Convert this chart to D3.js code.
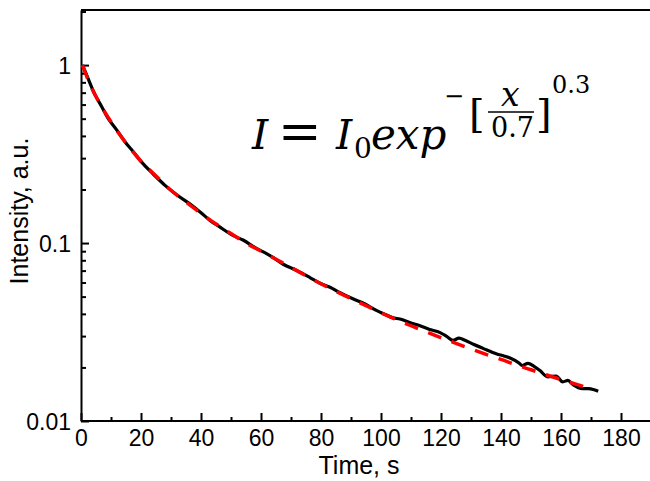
<!DOCTYPE html>
<html>
<head>
<meta charset="utf-8">
<script src="https://cdn.jsdelivr.net/npm/d3@7"></script>
<style>
  body { margin: 0; background: #fff; }
  svg { display: block; }
</style>
</head>
<body>
<script>

// measured decay curve (time in s, intensity in a.u.)
var timeData = [0.5, 2, 4.7, 7, 9.1, 12, 14.7, 17.5, 20.2, 24, 28, 32, 36.9, 40, 43, 46,
  50.8, 54, 58.6, 62, 64, 67.4, 72, 76.3, 80, 83, 86, 90.8, 94, 98.6, 101, 104, 106.3,
  110, 113, 116, 119.7, 122, 124, 126, 128, 130.8, 134, 138.6, 141, 143, 146, 147,
  149, 151, 153, 155.5, 158.4, 160.6, 162.3, 164, 167.2, 169, 171, 172.4];
var intensityData = [1.0, 0.87, 0.68, 0.58, 0.50, 0.43, 0.37, 0.325, 0.285, 0.245, 0.211,
  0.186, 0.163, 0.148, 0.134, 0.124, 0.110, 0.104, 0.093, 0.087, 0.083, 0.076, 0.070,
  0.064, 0.059, 0.0565, 0.053, 0.0485, 0.046, 0.0417, 0.040, 0.038, 0.0374, 0.0355,
  0.0343, 0.0328, 0.0314, 0.0298, 0.0284, 0.0292, 0.0284, 0.027, 0.0256, 0.0238,
  0.0232, 0.0226, 0.0212, 0.0205, 0.0211, 0.0203, 0.0192, 0.0177, 0.0179, 0.0166,
  0.0169, 0.0160, 0.0152, 0.0152, 0.0150, 0.0147];

// stretched exponential fit
var fitTime = [0.5, 3, 6, 10, 15, 20, 25, 30, 35, 40, 45, 50, 55, 60, 65, 70, 75, 80, 85,
  90, 95, 100, 105, 110, 115, 120, 125, 130, 135, 140, 145, 150, 155, 160, 165, 170];
var fitIntensity = [1.0, 0.78, 0.62, 0.48, 0.365, 0.288, 0.238, 0.198, 0.170, 0.147,
  0.128, 0.113, 0.100, 0.090, 0.081, 0.073, 0.0655, 0.059, 0.0535, 0.0488, 0.0445,
  0.0405, 0.0372, 0.0343, 0.0317, 0.0294, 0.0273, 0.0254, 0.0237, 0.0222, 0.0207,
  0.0194, 0.0182, 0.0171, 0.0161, 0.0152];

var xMajor = [0, 20, 40, 60, 80, 100, 120, 140, 160, 180];
var xMinor = [10, 30, 50, 70, 90, 110, 130, 150, 170, 190];
var yMajor = [0.01, 0.1, 1];
var yMajorLabels = ["0.01", "0.1", "1"];
var yMinor = [0.02, 0.03, 0.04, 0.05, 0.06, 0.07, 0.08, 0.09,
  0.2, 0.3, 0.4, 0.5, 0.6, 0.7, 0.8, 0.9, 2];

var width = 650, height = 481;
var margin = {top: 10, left: 80, bottom: 60};

var svg = d3.select("body").append("svg")
    .attr("width", width)
    .attr("height", height);

var x = d3.scaleLinear().domain([0, 190]).range([81, 651]);
var y = d3.scaleLog().domain([0.01, 2.04]).range([height - margin.bottom, margin.top]);

// frame: top line (right side runs off the picture)
svg.append("line")
    .attr("x1", x(0)).attr("x2", width + 5)
    .attr("y1", margin.top).attr("y2", margin.top)
    .attr("stroke", "#000").attr("stroke-width", 2);

var font = "'Liberation Sans', Arial, sans-serif";

// x axis
var gx = svg.append("g")
    .attr("transform", "translate(0," + y(0.01) + ")")
    .call(d3.axisBottom(x).tickValues(xMajor).tickSize(-8).tickSizeOuter(0).tickPadding(5));
svg.append("g")
    .attr("transform", "translate(0," + y(0.01) + ")")
    .call(d3.axisBottom(x).tickValues(xMinor).tickSize(-4).tickFormat(""))
    .select(".domain").remove();

// y axis
var gy = svg.append("g")
    .attr("transform", "translate(" + x(0) + ",0)")
    .call(d3.axisLeft(y).tickValues(yMajor).tickSize(-8).tickSizeOuter(0).tickPadding(10)
      .tickFormat(function(d, i) { return yMajorLabels[i]; }));
svg.append("g")
    .attr("transform", "translate(" + x(0) + ",0)")
    .call(d3.axisLeft(y).tickValues(yMinor).tickSize(-5).tickFormat(""))
    .select(".domain").remove();

svg.selectAll(".domain").attr("stroke", "#000").attr("stroke-width", 2);
svg.selectAll(".tick line").attr("stroke", "#000").attr("stroke-width", 2);
svg.selectAll(".tick text")
    .attr("font-family", font)
    .attr("font-size", 23)
    .attr("fill", "#000");
gx.select(".domain").attr("d", "M" + x(0) + ",0H" + (width + 5));
gx.selectAll(".tick text").attr("dy", "0.85em");
gy.selectAll(".tick text").attr("dy", "0.35em");

// axis titles
svg.append("text")
    .attr("x", 359).attr("y", 474)
    .attr("text-anchor", "middle")
    .attr("font-family", font).attr("font-size", 25)
    .text("Time, s");

svg.append("text")
    .attr("transform", "translate(28,211) rotate(-90)")
    .attr("text-anchor", "middle")
    .attr("font-family", font).attr("font-size", 25)
    .text("Intensity, a.u.");

// curves
var line = d3.line()
    .x(function(d) { return x(d[0]); })
    .y(function(d) { return y(d[1]); })
    .curve(d3.curveMonotoneX);

var measured = timeData.map(function(t, i) { return [t, intensityData[i]]; });
var fitted = fitTime.map(function(t, i) { return [t, fitIntensity[i]]; });

svg.append("path")
    .datum(measured)
    .attr("d", line)
    .attr("fill", "none")
    .attr("stroke", "#000")
    .attr("stroke-width", 3.2)
    .attr("stroke-linejoin", "round");

svg.append("path")
    .datum(fitted)
    .attr("d", line)
    .attr("fill", "none")
    .attr("stroke", "#ff0000")
    .attr("stroke-width", 3.5)
    .attr("stroke-dasharray", "14,11");

// equation
var eq = svg.append("g")
    .attr("font-family", "'DejaVu Serif', 'Liberation Serif', serif")
    .attr("fill", "#000");

function eqText(txt, px, py, size, italic) {
  eq.append("text")
      .attr("x", px).attr("y", py)
      .attr("font-size", size)
      .attr("font-style", italic ? "italic" : "normal")
      .text(txt);
}

eqText("I", 252, 149, 41, true);
eqText("=", 278, 149, 52, false);
eqText("I", 336, 149, 41, true);
eqText("0", 354, 158, 28, false);
eqText("exp", 371, 149, 42, true);
eqText("\u2212", 444, 104, 24, false);
eqText("[", 469, 127, 40, false);
eqText("x", 501, 106, 33, true);
eqText("0.7", 491, 137, 27, false);
eqText("]", 536, 127, 40, false);
eqText("0.3", 552, 93, 24, false);
eq.append("line")
    .attr("x1", 488).attr("x2", 534)
    .attr("y1", 112).attr("y2", 112)
    .attr("stroke", "#000").attr("stroke-width", 1.5);

</script>
</body>
</html>
